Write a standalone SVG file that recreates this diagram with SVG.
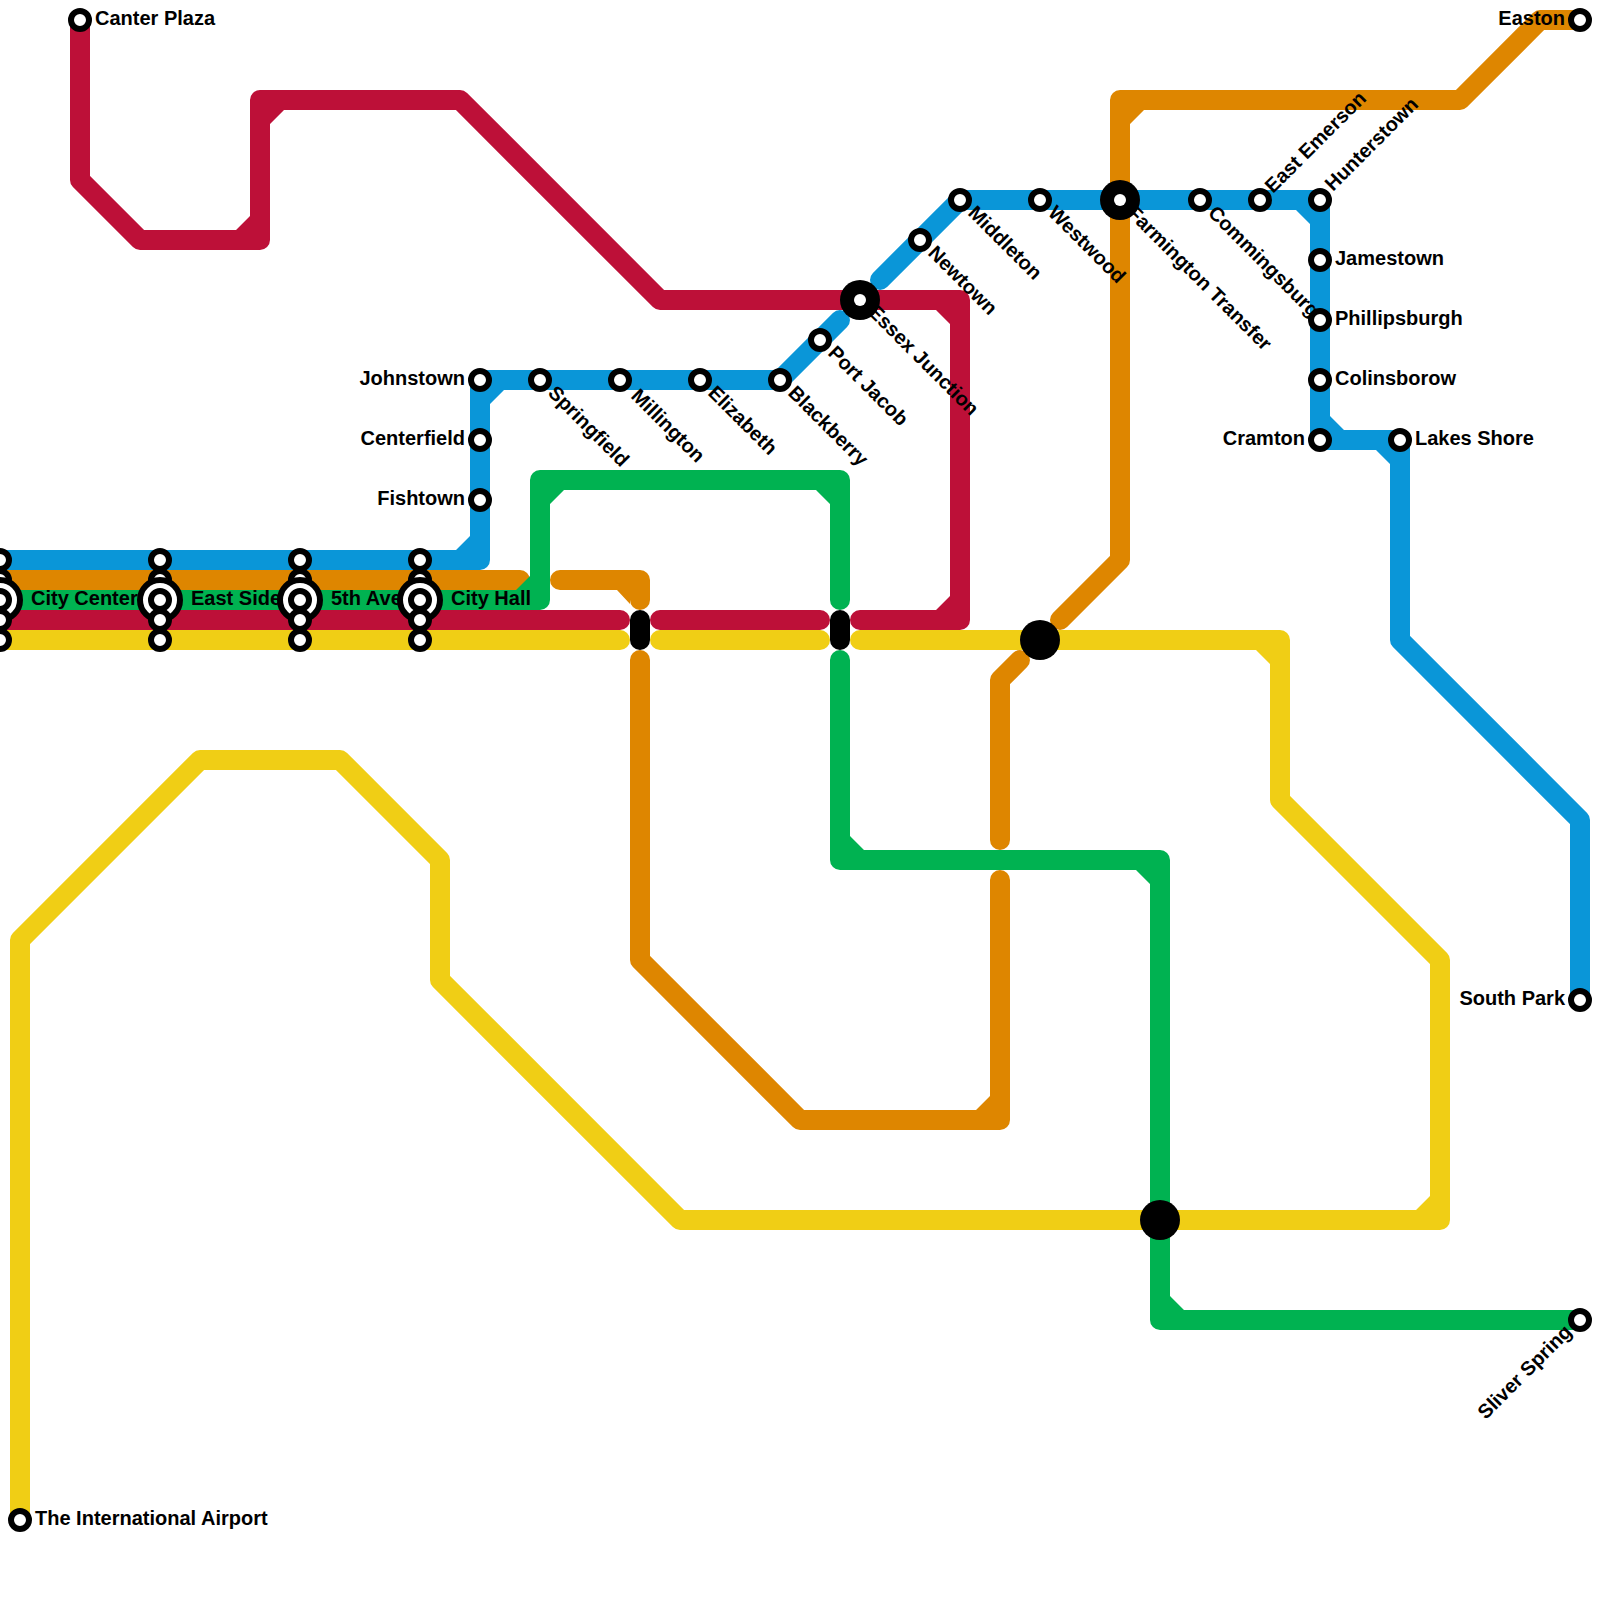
<svg xmlns="http://www.w3.org/2000/svg" width="1600" height="1600" viewBox="0 0 1600 1600">
<style>
.l{fill:none;stroke-width:20;stroke-linecap:round;stroke-linejoin:round}
.red{stroke:#bd1038}.blue{stroke:#0a96d8}.orange{stroke:#de8600}.green{stroke:#00b251}.yellow{stroke:#f0ce15}
.fr{fill:#bd1038}.fb{fill:#0a96d8}.fo{fill:#de8600}.fg{fill:#00b251}.fy{fill:#f0ce15}
.st{fill:#fff;stroke:#000;stroke-width:6}
.ring{fill:#fff;stroke:#000;stroke-width:6}
.ix{fill:#000}.hole{fill:#fff}
.tr{fill:#000;stroke:#000;stroke-width:20;stroke-linecap:round}
text{font-family:"Liberation Sans",Arial,sans-serif;font-weight:700;font-size:20px;fill:#000}
.e{text-anchor:end}
</style>
<g id="connectors">
<path class="l orange" d="M-10 580H520M560 580H640V600M640 660V960L800 1120H1000V880M1000 840V680L1020 660M1060 620L1120 560V100H1460L1540 20H1580"/>
<path class="fo" d="M630 590V604L617 590ZM990 1110V1096L976 1110ZM1130 110V124L1144 110Z"/>
<path class="l blue" d="M-10 560H480V380H780L840 320M880 280L960 200H1320V440H1400V640L1580 820V1000"/>
<path class="fb" d="M470 550V536L456 550ZM490 390V404L504 390ZM1310 210V224L1296 210ZM1330 430V416L1344 430ZM1390 450V464L1376 450Z"/>
<path class="l yellow" d="M-10 640H620M660 640H820M860 640H1280V800L1440 960V1220H680L440 980V860L340 760H200L20 940V1520"/>
<path class="fy" d="M1270 650V664L1256 650ZM1430 1210V1196L1416 1210Z"/>
<path class="l red" d="M80 20V180L140 240H260V100H460L660 300H960V620H860M820 620H660M620 620H-10"/>
<path class="fr" d="M250 230V216L236 230ZM270 110V124L284 110ZM950 310V324L936 310ZM950 610V596L936 610Z"/>
<path class="l green" d="M-10 600H540V480H840V600M840 660V860H1160V1320H1580"/>
<path class="fg" d="M530 590V576L516 590ZM550 490V504L564 490ZM830 490V504L816 490ZM850 850V836L864 850ZM1150 870V884L1136 870ZM1170 1310V1296L1184 1310Z"/>
<path class="tr" d="M640 620V640M840 620V640"/>
</g>
<g id="essex"><circle class="ix" cx="860" cy="300" r="20"/><circle class="hole" cx="860" cy="300" r="6"/><text transform="translate(867 313) rotate(45)">Essex Junction</text></g>
<g id="farmington"><circle class="ix" cx="1120" cy="200" r="20"/><circle class="hole" cx="1120" cy="200" r="6"/><text transform="translate(1126 214) rotate(45)">Farmington Transfer</text></g>
<g id="hub-orange-yellow"><circle class="ix" cx="1040" cy="640" r="20"/></g>
<g id="hub-green-yellow"><circle class="ix" cx="1160" cy="1220" r="20"/></g>
<g id="city-center"><circle class="st" cx="0" cy="560" r="9"/><circle class="st" cx="0" cy="580" r="9"/><circle class="ring" cx="0" cy="600" r="20"/><circle class="st" cx="0" cy="600" r="9"/><circle class="st" cx="0" cy="620" r="9"/><circle class="st" cx="0" cy="640" r="9"/><text x="31" y="605">City Center</text></g>
<g id="east-side"><circle class="st" cx="160" cy="560" r="9"/><circle class="st" cx="160" cy="580" r="9"/><circle class="ring" cx="160" cy="600" r="20"/><circle class="st" cx="160" cy="600" r="9"/><circle class="st" cx="160" cy="620" r="9"/><circle class="st" cx="160" cy="640" r="9"/><text x="191" y="605">East Side</text></g>
<g id="fifth-ave"><circle class="st" cx="300" cy="560" r="9"/><circle class="st" cx="300" cy="580" r="9"/><circle class="ring" cx="300" cy="600" r="20"/><circle class="st" cx="300" cy="600" r="9"/><circle class="st" cx="300" cy="620" r="9"/><circle class="st" cx="300" cy="640" r="9"/><text x="331" y="605">5th Ave</text></g>
<g id="city-hall"><circle class="st" cx="420" cy="560" r="9"/><circle class="st" cx="420" cy="580" r="9"/><circle class="ring" cx="420" cy="600" r="20"/><circle class="st" cx="420" cy="600" r="9"/><circle class="st" cx="420" cy="620" r="9"/><circle class="st" cx="420" cy="640" r="9"/><text x="451" y="605">City Hall</text></g>
<g id="canter-plaza"><circle class="st" cx="80" cy="20" r="9"/><text x="95" y="25">Canter Plaza</text></g>
<g id="airport"><circle class="st" cx="20" cy="1520" r="9"/><text x="35" y="1525">The International Airport</text></g>
<g id="johnstown"><circle class="st" cx="480" cy="380" r="9"/><text class="e" x="465" y="385">Johnstown</text></g>
<g id="centerfield"><circle class="st" cx="480" cy="440" r="9"/><text class="e" x="465" y="445">Centerfield</text></g>
<g id="fishtown"><circle class="st" cx="480" cy="500" r="9"/><text class="e" x="465" y="505">Fishtown</text></g>
<g id="springfield"><circle class="st" cx="540" cy="380" r="9"/><text transform="translate(547 394) rotate(45)">Springfield</text></g>
<g id="millington"><circle class="st" cx="620" cy="380" r="9"/><text transform="translate(630 397) rotate(45)">Millington</text></g>
<g id="elizabeth"><circle class="st" cx="700" cy="380" r="9"/><text transform="translate(707 394) rotate(45)">Elizabeth</text></g>
<g id="blackberry"><circle class="st" cx="780" cy="380" r="9"/><text transform="translate(787 394) rotate(45)">Blackberry</text></g>
<g id="port-jacob"><circle class="st" cx="820" cy="340" r="9"/><text transform="translate(827 354) rotate(45)">Port Jacob</text></g>
<g id="newtown"><circle class="st" cx="920" cy="240" r="9"/><text transform="translate(927 254) rotate(45)">Newtown</text></g>
<g id="middleton"><circle class="st" cx="960" cy="200" r="9"/><text transform="translate(967 214) rotate(45)">Middleton</text></g>
<g id="westwood"><circle class="st" cx="1040" cy="200" r="9"/><text transform="translate(1047 214) rotate(45)">Westwood</text></g>
<g id="commingsburg"><circle class="st" cx="1200" cy="200" r="9"/><text transform="translate(1207 214) rotate(45)">Commingsburg</text></g>
<g id="east-emerson"><circle class="st" cx="1260" cy="200" r="9"/><text transform="translate(1273 194) rotate(-45)">East Emerson</text></g>
<g id="hunterstown"><circle class="st" cx="1320" cy="200" r="9"/><text transform="translate(1333 192) rotate(-45)">Hunterstown</text></g>
<g id="jamestown"><circle class="st" cx="1320" cy="260" r="9"/><text x="1335" y="265">Jamestown</text></g>
<g id="phillipsburgh"><circle class="st" cx="1320" cy="320" r="9"/><text x="1335" y="325">Phillipsburgh</text></g>
<g id="colinsborow"><circle class="st" cx="1320" cy="380" r="9"/><text x="1335" y="385">Colinsborow</text></g>
<g id="cramton"><circle class="st" cx="1320" cy="440" r="9"/><text class="e" x="1305" y="445">Cramton</text></g>
<g id="lakes-shore"><circle class="st" cx="1400" cy="440" r="9"/><text x="1415" y="445">Lakes Shore</text></g>
<g id="south-park"><circle class="st" cx="1580" cy="1000" r="9"/><text class="e" x="1565" y="1005">South Park</text></g>
<g id="sliver-spring"><circle class="st" cx="1580" cy="1320" r="9"/><text class="e" transform="translate(1573 1333) rotate(-45)">Sliver Spring</text></g>
<g id="easton"><circle class="st" cx="1580" cy="20" r="9"/><text class="e" x="1565" y="25">Easton</text></g>
</svg>
